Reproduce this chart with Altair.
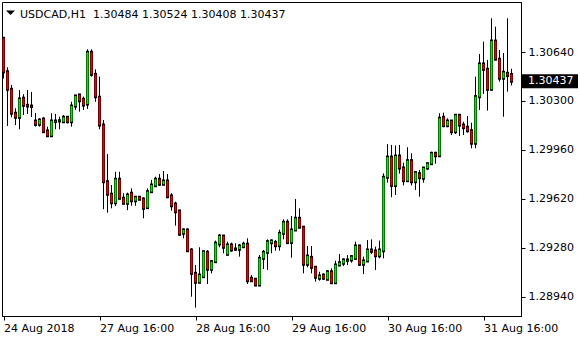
import altair as alt
import pandas as pd

symbol_title = "USDCAD,H1\u00a0\u00a01.30484 1.30524 1.30408 1.30437"
last_price_label = "1.30437"
y_tick_values = [1.28940, 1.29280, 1.29620, 1.29960, 1.30300, 1.30640]
x_tick_bars = [0, 24, 48, 72, 96, 120]
x_tick_labels = ["24 Aug 2018", "27 Aug 16:00", "28 Aug 16:00",
                 "29 Aug 16:00", "30 Aug 16:00", "31 Aug 16:00"]

open_ = [1.30735, 1.30503, 1.30381, 1.30215, 1.30187, 1.30319, 1.30270, 1.30265,
         1.30161, 1.30138, 1.30175, 1.30092, 1.30059, 1.30158, 1.30161, 1.30156,
         1.30187, 1.30156, 1.30265, 1.30342, 1.30312, 1.30279, 1.30638, 1.30485,
         1.30326, 1.30133, 1.29740, 1.29653, 1.29594, 1.29757, 1.29625, 1.29590,
         1.29660, 1.29608, 1.29632, 1.29620, 1.29560, 1.29671, 1.29712, 1.29757,
         1.29722, 1.29745, 1.29641, 1.29585, 1.29537, 1.29382, 1.29405, 1.29266,
         1.29104, 1.29042, 1.29081, 1.29250, 1.29132, 1.29185, 1.29308, 1.29363,
         1.29236, 1.29301, 1.29273, 1.29271, 1.29289, 1.29306, 1.29070, 1.29063,
         1.29023, 1.29208, 1.29250, 1.29317, 1.29319, 1.29296, 1.29382, 1.29458,
         1.29319, 1.29405, 1.29486, 1.29424, 1.29167, 1.29215, 1.29146, 1.29070,
         1.29092, 1.29063, 1.29115, 1.29039, 1.29162, 1.29174, 1.29194, 1.29197,
         1.29208, 1.29294, 1.29167, 1.29190, 1.29266, 1.29259, 1.29226, 1.29261,
         1.29771, 1.29911, 1.29714, 1.29918, 1.29835, 1.29747, 1.29886, 1.29740,
         1.29796, 1.29764, 1.29835, 1.29865, 1.29937, 1.29920, 1.30187, 1.30129,
         1.30161, 1.30087, 1.30201, 1.30133, 1.30118, 1.30094, 1.30007, 1.30330,
         1.30557, 1.30520, 1.30381, 1.30716, 1.30590, 1.30458, 1.30492, 1.30484]
high = [1.30737, 1.30534, 1.30411, 1.30249, 1.30376, 1.30347, 1.30376, 1.30363,
        1.30217, 1.30180, 1.30187, 1.30122, 1.30215, 1.30210, 1.30191, 1.30203,
        1.30196, 1.30295, 1.30342, 1.30347, 1.30330, 1.30659, 1.30659, 1.30520,
        1.30469, 1.30168, 1.29932, 1.29717, 1.29809, 1.29809, 1.29660, 1.29664,
        1.29694, 1.29641, 1.29641, 1.29632, 1.29694, 1.29752, 1.29775, 1.29793,
        1.29814, 1.29793, 1.29660, 1.29601, 1.29544, 1.29417, 1.29417, 1.29278,
        1.29162, 1.29285, 1.29261, 1.29266, 1.29197, 1.29331, 1.29377, 1.29370,
        1.29324, 1.29317, 1.29313, 1.29308, 1.29324, 1.29347, 1.29092, 1.29070,
        1.29231, 1.29266, 1.29340, 1.29340, 1.29335, 1.29407, 1.29479, 1.29479,
        1.29502, 1.29620, 1.29555, 1.29428, 1.29294, 1.29294, 1.29155, 1.29115,
        1.29104, 1.29127, 1.29139, 1.29192, 1.29238, 1.29208, 1.29231, 1.29231,
        1.29324, 1.29297, 1.29220, 1.29335, 1.29340, 1.29289, 1.29331, 1.29798,
        1.30001, 1.29995, 1.29991, 1.29995, 1.29872, 1.29979, 1.29937, 1.29809,
        1.29821, 1.29842, 1.29872, 1.29948, 1.29948, 1.30215, 1.30219, 1.30180,
        1.30168, 1.30203, 1.30203, 1.30156, 1.30196, 1.30149, 1.30469, 1.30626,
        1.30712, 1.30585, 1.30874, 1.30816, 1.30654, 1.30633, 1.30874, 1.30524]
low = [1.30456, 1.30127, 1.30187, 1.30133, 1.30104, 1.30203, 1.30210, 1.30189,
       1.30122, 1.30122, 1.30080, 1.30059, 1.30059, 1.30104, 1.30104, 1.30156,
       1.30145, 1.30122, 1.30238, 1.30226, 1.30238, 1.30245, 1.30469, 1.30295,
       1.30104, 1.29549, 1.29525, 1.29555, 1.29571, 1.29618, 1.29590, 1.29542,
       1.29573, 1.29573, 1.29613, 1.29486, 1.29560, 1.29664, 1.29712, 1.29710,
       1.29717, 1.29625, 1.29539, 1.29435, 1.29375, 1.29347, 1.29254, 1.28942,
       1.28866, 1.29042, 1.29081, 1.29030, 1.29104, 1.29185, 1.29285, 1.29243,
       1.29236, 1.29254, 1.29261, 1.29220, 1.29285, 1.29030, 1.29053, 1.29016,
       1.29023, 1.29134, 1.29127, 1.29243, 1.29261, 1.29261, 1.29340, 1.29308,
       1.29213, 1.29400, 1.29421, 1.29104, 1.29146, 1.29104, 1.29046, 1.29053,
       1.29058, 1.29058, 1.29030, 1.29039, 1.29155, 1.29155, 1.29162, 1.29178,
       1.29202, 1.29155, 1.29099, 1.29190, 1.29238, 1.29127, 1.29208, 1.29208,
       1.29733, 1.29632, 1.29648, 1.29796, 1.29714, 1.29740, 1.29714, 1.29682,
       1.29636, 1.29733, 1.29821, 1.29858, 1.29865, 1.29914, 1.30118, 1.30118,
       1.30064, 1.30071, 1.30057, 1.30064, 1.30080, 1.29972, 1.29972, 1.30238,
       1.30349, 1.30233, 1.30376, 1.30585, 1.30434, 1.30191, 1.30365, 1.30408]
close = [1.30503, 1.30381, 1.30215, 1.30187, 1.30314, 1.30270, 1.30265, 1.30262,
         1.30138, 1.30168, 1.30087, 1.30059, 1.30161, 1.30161, 1.30163, 1.30187,
         1.30156, 1.30265, 1.30335, 1.30302, 1.30272, 1.30638, 1.30485, 1.30330,
         1.30133, 1.29740, 1.29653, 1.29594, 1.29757, 1.29625, 1.29590, 1.29648,
         1.29608, 1.29632, 1.29618, 1.29555, 1.29671, 1.29717, 1.29757, 1.29722,
         1.29745, 1.29636, 1.29573, 1.29532, 1.29375, 1.29405, 1.29261, 1.29104,
         1.29042, 1.29092, 1.29254, 1.29132, 1.29185, 1.29313, 1.29363, 1.29285,
         1.29301, 1.29266, 1.29271, 1.29294, 1.29306, 1.29053, 1.29053, 1.29023,
         1.29208, 1.29250, 1.29324, 1.29329, 1.29296, 1.29382, 1.29458, 1.29317,
         1.29405, 1.29486, 1.29424, 1.29167, 1.29224, 1.29146, 1.29077, 1.29086,
         1.29070, 1.29115, 1.29039, 1.29162, 1.29178, 1.29197, 1.29197, 1.29220,
         1.29294, 1.29167, 1.29190, 1.29266, 1.29257, 1.29226, 1.29266, 1.29771,
         1.29911, 1.29714, 1.29918, 1.29835, 1.29747, 1.29886, 1.29740, 1.29803,
         1.29768, 1.29835, 1.29865, 1.29937, 1.29920, 1.30180, 1.30129, 1.30161,
         1.30087, 1.30201, 1.30133, 1.30115, 1.30094, 1.30007, 1.30330, 1.30557,
         1.30520, 1.30381, 1.30716, 1.30590, 1.30458, 1.30499, 1.30476, 1.30437]

GREEN = "#00EE00"
RED = "#EE0000"
FONT = "DejaVu Sans"

df = pd.DataFrame({"bar": list(range(len(open_))), "open": open_, "high": high,
                   "low": low, "close": close})

W, H = 519, 314
xscale = alt.Scale(domain=[-0.375, 129.375], nice=False, zero=False, padding=0)
yscale = alt.Scale(domain=[1.28808, 1.30987], nice=False, zero=False, padding=0)

label_expr = ("[" + ",".join("'" + s + "'" for s in x_tick_labels) + "][indexof(["
              + ",".join(str(v) for v in x_tick_bars) + "], datum.value)]")

xaxis = alt.Axis(values=x_tick_bars, labelExpr=label_expr, labelAlign="left",
                 labelFont=FONT, labelFontSize=11, labelColor="black",
                 tickColor="black", domainColor="black", tickSize=4,
                 labelPadding=2, grid=False, title=None, labelOverlap=False,
                 labelFlush=False)
yaxis = alt.Axis(orient="right", values=y_tick_values, format=".5f",
                 labelFont=FONT, labelFontSize=11, labelColor="black",
                 tickColor="black", domainColor="black", tickSize=4,
                 labelPadding=3, grid=False, title=None, labelOverlap=False,
                 labelFlush=False)

X = alt.X("bar:Q", scale=xscale, axis=xaxis)

base = alt.Chart(df).transform_calculate(
    body_lo="min(datum.open, datum.close)",
    body_hi="max(datum.open, datum.close)",
)
wick_low = base.mark_rule(color="black", strokeWidth=1).encode(
    x=X, y=alt.Y("low:Q", scale=yscale, axis=yaxis), y2="body_lo:Q",
)
wick_high = base.mark_rule(color="black", strokeWidth=1).encode(
    x=X, y=alt.Y("body_hi:Q", scale=yscale, axis=yaxis), y2="high:Q",
)
body_outline = base.mark_rule(color="black", strokeWidth=3, strokeCap="square").encode(
    x=X, y=alt.Y("open:Q", scale=yscale, axis=yaxis), y2="close:Q",
)
body_fill = base.mark_rule(strokeWidth=2, strokeCap="butt", opacity=1).encode(
    x=X, y=alt.Y("open:Q", scale=yscale, axis=yaxis), y2="close:Q",
    color=alt.condition("datum.close >= datum.open", alt.value(GREEN), alt.value(RED)),
)

title_df = pd.DataFrame({"t": [symbol_title]})
title_text = alt.Chart(title_df).mark_text(
    font=FONT, fontSize=11, color="black", align="left", baseline="alphabetic"
).encode(x=alt.value(18), y=alt.value(15.5), text="t:N")
triangle = alt.Chart(title_df).mark_point(
    shape="M-1,-0.5L1,-0.5L0,0.5Z", filled=True, color="black", opacity=1,
    size=81, strokeWidth=0
).encode(x=alt.value(8.5), y=alt.value(10.8))

price_df = pd.DataFrame({"p": [close[-1]], "t": [last_price_label]})
price_box = alt.Chart(price_df).mark_rule(
    color="black", strokeWidth=14, strokeCap="butt"
).encode(
    y=alt.Y("p:Q", scale=yscale, axis=yaxis),
    x=alt.value(519.5), x2=alt.value(576),
)
price_text = alt.Chart(price_df).mark_text(
    font=FONT, fontSize=11, color="white", align="left", baseline="middle"
).encode(
    y=alt.Y("p:Q", scale=yscale, axis=yaxis),
    x=alt.value(526), text="t:N",
)

chart = alt.layer(wick_low, wick_high, body_outline, body_fill,
                  price_box, price_text, title_text, triangle).properties(
    width=W, height=H,
    padding={"left": 2, "top": 2, "right": 59, "bottom": 24},
    autosize=alt.AutoSizeParams(type="none"),
    background="white",
).configure_view(stroke="black", strokeWidth=1)

chart.save("out.html", embed_options={"renderer": "svg", "actions": False})
